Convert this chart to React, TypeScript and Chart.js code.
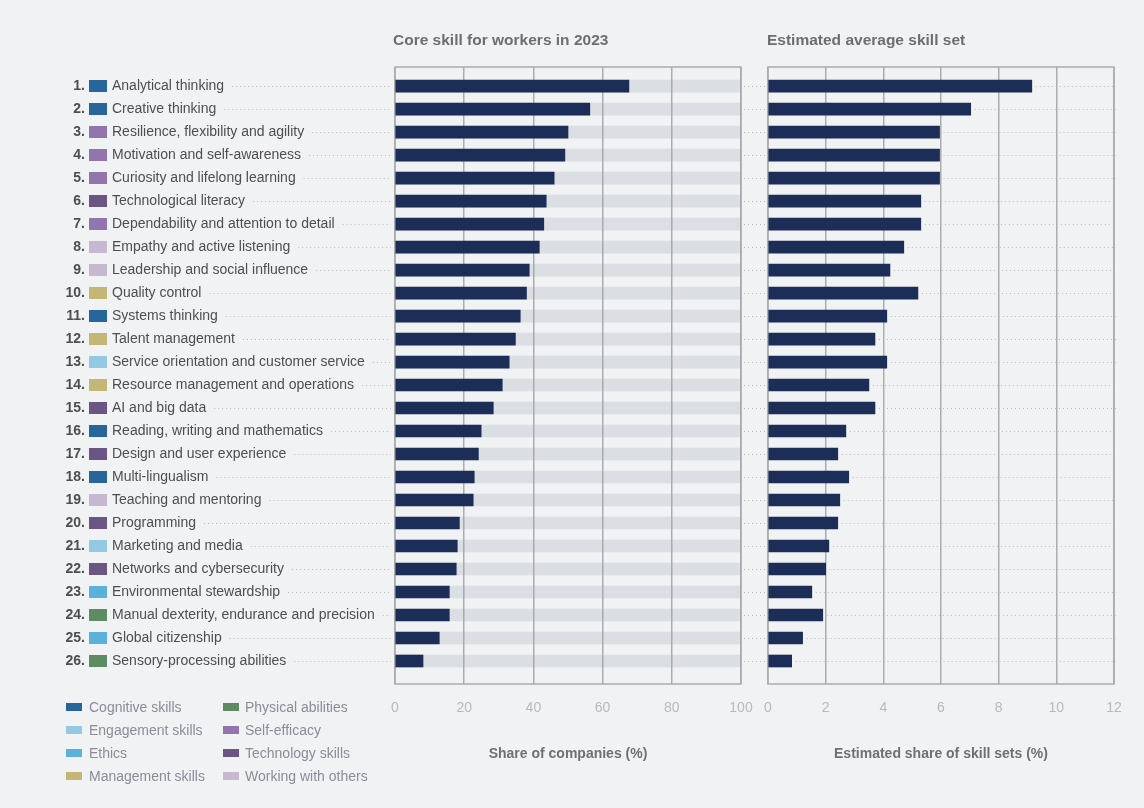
import { useEffect, useRef } from "react";
import { Chart, registerables } from "chart.js";

Chart.register(...registerables);

const FONT = '"Liberation Sans", Arial, Helvetica, sans-serif';

const skills = [
  "Analytical thinking",
  "Creative thinking",
  "Resilience, flexibility and agility",
  "Motivation and self-awareness",
  "Curiosity and lifelong learning",
  "Technological literacy",
  "Dependability and attention to detail",
  "Empathy and active listening",
  "Leadership and social influence",
  "Quality control",
  "Systems thinking",
  "Talent management",
  "Service orientation and customer service",
  "Resource management and operations",
  "AI and big data",
  "Reading, writing and mathematics",
  "Design and user experience",
  "Multi-lingualism",
  "Teaching and mentoring",
  "Programming",
  "Marketing and media",
  "Networks and cybersecurity",
  "Environmental stewardship",
  "Manual dexterity, endurance and precision",
  "Global citizenship",
  "Sensory-processing abilities",
];

const groupNames = [
  "Cognitive skills",
  "Engagement skills",
  "Ethics",
  "Management skills",
  "Physical abilities",
  "Self-efficacy",
  "Technology skills",
  "Working with others",
];

const groupColors = [
  "#27659a",
  "#94c8e3",
  "#5cb0dc",
  "#c4b677",
  "#5f8b63",
  "#9275ac",
  "#6a5584",
  "#c6b8d0",
];

// index into groupNames for each skill
const skillGroups = [0, 0, 5, 5, 5, 6, 5, 7, 7, 3, 0, 3, 1, 3, 6, 0, 6, 0, 7, 6, 1, 6, 2, 4, 2, 4];

const coreShare = [
  67.6, 56.3, 50.0, 49.1, 46.0, 43.7, 43.0, 41.7, 38.8, 38.0, 36.2, 34.8, 33.0,
  31.0, 28.4, 24.9, 24.1, 22.9, 22.6, 18.6, 18.0, 17.7, 15.7, 15.7, 12.8, 8.1,
];

const skillSetShare = [
  9.15, 7.03, 5.95, 5.95, 5.95, 5.3, 5.3, 4.71, 4.23, 5.2, 4.12, 3.71, 4.12,
  3.5, 3.71, 2.7, 2.42, 2.8, 2.49, 2.42, 2.11, 2.0, 1.52, 1.9, 1.2, 0.82,
];

const coreTicks = { min: 0, max: 100, step: 20 };
const setTicks = { min: 0, max: 12, step: 2 };

const BAR = "#1c2d58";
const TRACK = "rgba(157,162,172,0.25)";
const GRID = "#abacaf";
const DOT = "#b9babd";

function dottedLine(ctx: CanvasRenderingContext2D, x1: number, x2: number, y: number) {
  if (x2 <= x1) return;
  ctx.save();
  ctx.strokeStyle = DOT;
  ctx.lineWidth = 1;
  ctx.setLineDash([1, 3]);
  ctx.beginPath();
  ctx.moveTo(x1, y + 0.5);
  ctx.lineTo(x2, y + 0.5);
  ctx.stroke();
  ctx.restore();
}

const frameRect = {
  id: "frameRect",
  beforeDatasetsDraw(chart: any) {
    const { ctx, chartArea } = chart;
    ctx.save();
    ctx.strokeStyle = GRID;
    ctx.lineWidth = 1.5;
    ctx.strokeRect(chartArea.left, chartArea.top, chartArea.right - chartArea.left, chartArea.bottom - chartArea.top);
    ctx.restore();
  },
};

const rowLabels = {
  id: "rowLabels",
  beforeDatasetsDraw(chart: any) {
    const { ctx, chartArea, scales } = chart;
    const y = scales.y;
    ctx.save();
    skills.forEach((name, i) => {
      const cy = Math.round(y.getPixelForValue(i));
      ctx.textBaseline = "middle";
      ctx.font = `bold 14px ${FONT}`;
      ctx.fillStyle = "#4e4e50";
      ctx.textAlign = "right";
      ctx.fillText(`${i + 1}.`, 85, cy);
      ctx.fillStyle = groupColors[skillGroups[i]];
      ctx.fillRect(89, cy - 6, 18, 12);
      ctx.font = `14px ${FONT}`;
      ctx.textAlign = "left";
      ctx.fillStyle = "#4e4e52";
      ctx.fillText(name, 112, cy);
      const w = ctx.measureText(name).width;
      dottedLine(ctx, 112 + w + 8, chartArea.left - 4, cy);
      dottedLine(ctx, chartArea.right + 3, chart.width, cy);
    });
    ctx.restore();
  },
};

const rightDots = {
  id: "rightDots",
  beforeDatasetsDraw(chart: any) {
    const { ctx, chartArea, scales } = chart;
    skillSetShare.forEach((v, i) => {
      const cy = Math.round(scales.y.getPixelForValue(i));
      const end = scales.x.getPixelForValue(v);
      dottedLine(ctx, 0, chartArea.left - 3, cy);
      dottedLine(ctx, end + 4, chartArea.right + 2, cy);
    });
  },
};

function makeOptions(ticks: { min: number; max: number; step: number }, title: string, padLeft: number, padRight: number) {
  return {
    indexAxis: "y" as const,
    responsive: false,
    animation: false as const,
    layout: { padding: { left: padLeft, right: padRight, top: 67, bottom: 0 } },
    plugins: { legend: { display: false }, tooltip: { enabled: false }, title: { display: false } },
    scales: {
      y: {
        type: "linear" as const,
        min: -0.83,
        max: 26.0,
        reverse: true,
        offset: false,
        display: false,
        grid: { offset: false },
      },
      x: {
        type: "linear" as const,
        min: ticks.min,
        max: ticks.max,
        afterFit(scale: any) {
          scale.height = 124;
          scale.paddingLeft = 0;
          scale.paddingRight = 0;
        },
        ticks: {
          stepSize: ticks.step,
          padding: 16,
          color: "#b8b9bb",
          font: { family: FONT, size: 14 },
        },
        grid: { color: GRID, lineWidth: 1.5, drawTicks: false },
        border: { display: false },
        title: {
          display: true,
          text: title,
          color: "#6f7072",
          font: { family: FONT, size: 14, weight: "bold" as const },
          padding: { top: 0, bottom: 45.6 },
        },
      },
    },
  };
}

function CoreChart() {
  const ref = useRef<HTMLCanvasElement>(null);
  useEffect(() => {
    if (!ref.current) return;
    const chart = new Chart(ref.current, {
      type: "bar",
      data: {
        datasets: [
          {
            data: coreShare.map((v, i) => ({ x: v, y: i })),
            backgroundColor: BAR,
            barThickness: 12,
            grouped: false,
            order: 0,
          },
          {
            data: coreShare.map((_, i) => ({ x: coreTicks.max, y: i })),
            backgroundColor: TRACK,
            barThickness: 12,
            grouped: false,
            order: 1,
          },
        ],
      },
      options: makeOptions(coreTicks, "Share of companies (%)", 395, 19) as any,
      plugins: [frameRect, rowLabels],
    });
    return () => chart.destroy();
  }, []);
  return <canvas ref={ref} width={760} height={808} style={{ position: "absolute", left: 0, top: 0, display: "block" }} />;
}

function SetChart() {
  const ref = useRef<HTMLCanvasElement>(null);
  useEffect(() => {
    if (!ref.current) return;
    const chart = new Chart(ref.current, {
      type: "bar",
      data: {
        datasets: [
          {
            data: skillSetShare.map((v, i) => ({ x: v, y: i })),
            backgroundColor: BAR,
            barThickness: 12,
            grouped: false,
          },
        ],
      },
      options: makeOptions(setTicks, "Estimated share of skill sets (%)", 8, 30) as any,
      plugins: [frameRect, rightDots],
    });
    return () => chart.destroy();
  }, []);
  return <canvas ref={ref} width={384} height={808} style={{ position: "absolute", left: 760, top: 0, display: "block" }} />;
}

export default function App() {
  return (
    <div
      style={{
        position: "absolute",
        left: 0,
        top: 0,
        width: 1144,
        height: 808,
        background: "#f1f2f4",
        fontFamily: FONT,
        overflow: "hidden",
      }}
    >
      <CoreChart />
      <SetChart />
      <div style={{ position: "absolute", left: 393, top: 30, lineHeight: "20px", fontSize: 15.5, fontWeight: 700, color: "#6d6e71", whiteSpace: "nowrap" }}>
        Core skill for workers in 2023
      </div>
      <div style={{ position: "absolute", left: 767, top: 30, lineHeight: "20px", fontSize: 15.5, fontWeight: 700, color: "#6d6e71", whiteSpace: "nowrap" }}>
        Estimated average skill set
      </div>
      {groupNames.map((name, g) => {
        const col = g < 4 ? 0 : 1;
        const row = g % 4;
        const cy = 707 + row * 23;
        return (
          <div key={name}>
            <div
              style={{
                position: "absolute",
                left: col ? 223 : 66,
                top: cy - 4,
                width: 16,
                height: 8,
                background: groupColors[g],
              }}
            />
            <div
              style={{
                position: "absolute",
                left: col ? 245 : 89,
                top: cy - 10,
                lineHeight: "20px",
                fontSize: 14,
                color: "#8a8c97",
                whiteSpace: "nowrap",
              }}
            >
              {name}
            </div>
          </div>
        );
      })}
    </div>
  );
}
